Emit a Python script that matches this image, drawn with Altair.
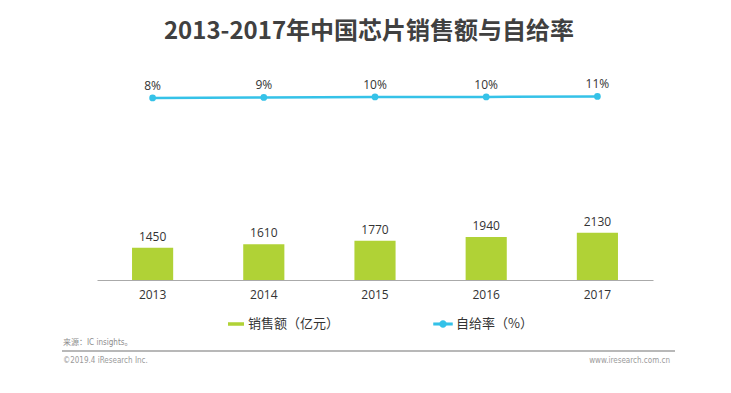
import altair as alt
import pandas as pd

years = ["2013", "2014", "2015", "2016", "2017"]
sales = [1450, 1610, 1770, 1940, 2130]
rates = [8, 9, 10, 10, 11]
rate_labels = ["8%", "9%", "10%", "10%", "11%"]
sales_name = "销售额（亿元）"
rate_name = "自给率（%）"
title_text = "2013-2017年中国芯片销售额与自给率"
source_text = "来源：IC insights。"
copyright_text = "©2019.4 iResearch Inc."
site_text = "www.iresearch.com.cn"

GREEN = "#B0D236"
CYAN = "#35C2E8"
CJK = "Noto Sans CJK SC"
NUM = "Open Sans"
SMALL = "DejaVu Sans Condensed, Noto Sans CJK SC"

df = pd.DataFrame({
    "year": years,
    "sales": sales,
    "rate": rates,
    "rate_label": rate_labels,
    "s_name": [sales_name] * len(years),
    "r_name": [rate_name] * len(years),
})

x_enc = alt.X(
    "year:N",
    sort=years,
    scale=alt.Scale(paddingInner=0.63, paddingOuter=0.315),
    axis=alt.Axis(
        title=None, labelAngle=0, ticks=False, grid=False,
        domainColor="#AAAAAA", domainWidth=1,
        labelFont=NUM, labelFontSize=12, labelColor="#333333", labelPadding=9,
    ),
)

base = alt.Chart(df)

y_sales = alt.Y("sales:Q", scale=alt.Scale(domain=[0, 9000]), axis=None)
y_rate = alt.Y("rate:Q", scale=alt.Scale(domain=[-379, 46]), axis=None)

bars = base.mark_bar().encode(
    x=x_enc,
    y=y_sales,
    fill=alt.Fill(
        "s_name:N",
        scale=alt.Scale(domain=[sales_name], range=[GREEN]),
        legend=alt.Legend(
            title=None, orient="none", legendX=131, legendY=236, padding=0,
            symbolType="M-1,-0.22 L1,-0.22 L1,0.22 L-1,0.22 Z", symbolSize=256,
            symbolStrokeWidth=0, labelFont=CJK, labelFontSize=13,
            labelColor="#333333", labelOffset=4,
        ),
    ),
)

bar_text = base.mark_text(
    baseline="bottom", dy=-4, font=NUM, fontSize=12, color="#333333"
).encode(x=x_enc, y=y_sales, text="sales:Q")

line = base.mark_line(strokeWidth=2.5).encode(
    x=x_enc,
    y=y_rate,
    stroke=alt.Stroke(
        "r_name:N",
        scale=alt.Scale(domain=[rate_name], range=[CYAN]),
        legend=alt.Legend(
            title=None, orient="none", legendX=336, legendY=234, padding=0,
            symbolType="M-1,-0.13 L1,-0.13 L1,0.13 L-1,0.13 Z M-0.37,0 A0.37,0.37 0 1,1 0.37,0 A0.37,0.37 0 1,1 -0.37,0 Z",
            symbolSize=361, symbolStrokeWidth=0.5, symbolFillColor=CYAN,
            labelFont=CJK, labelFontSize=13, labelColor="#333333", labelOffset=3,
        ),
    ),
)

pts = base.mark_circle(size=45, color=CYAN, opacity=1).encode(x=x_enc, y=y_rate)

rate_text = base.mark_text(
    baseline="bottom", dy=-5, font=NUM, fontSize=12, color="#333333"
).encode(x=x_enc, y=y_rate, text="rate_label:N")

one = alt.Data(values=[{}])
src = alt.Chart(one).mark_text(
    align="left", baseline="middle", font=SMALL, fontSize=8, color="#8C8C8C"
).encode(x=alt.value(-34), y=alt.value(263), text=alt.value(source_text))
rule = alt.Chart(one).mark_rule(color="#A0A0A0", strokeWidth=1.5).encode(
    x=alt.value(-35), x2=alt.value(578), y=alt.value(271)
)
copy = alt.Chart(one).mark_text(
    align="left", baseline="middle", font=SMALL, fontSize=8, color="#9A9A9A"
).encode(x=alt.value(-34), y=alt.value(281), text=alt.value(copyright_text))
site = alt.Chart(one).mark_text(
    align="right", baseline="middle", font=SMALL, fontSize=8, color="#9A9A9A"
).encode(x=alt.value(573), y=alt.value(281), text=alt.value(site_text))

chart = alt.layer(
    bars, bar_text, line, pts, rate_text, src, rule, copy, site
).resolve_scale(
    y="independent"
).properties(
    width=556,
    height=200,
    padding={"left": 89, "top": 72, "right": 70, "bottom": 105},
    autosize=alt.AutoSizeParams(type="none"),
    background="white",
    title=alt.TitleParams(
        title_text, font=CJK, fontSize=24, fontWeight="bold", color="#404040",
        anchor="middle", dx=-6, offset=34,
    ),
).configure_view(stroke=None)

chart.save("out.html", embed_options={"renderer": "svg", "actions": False})
